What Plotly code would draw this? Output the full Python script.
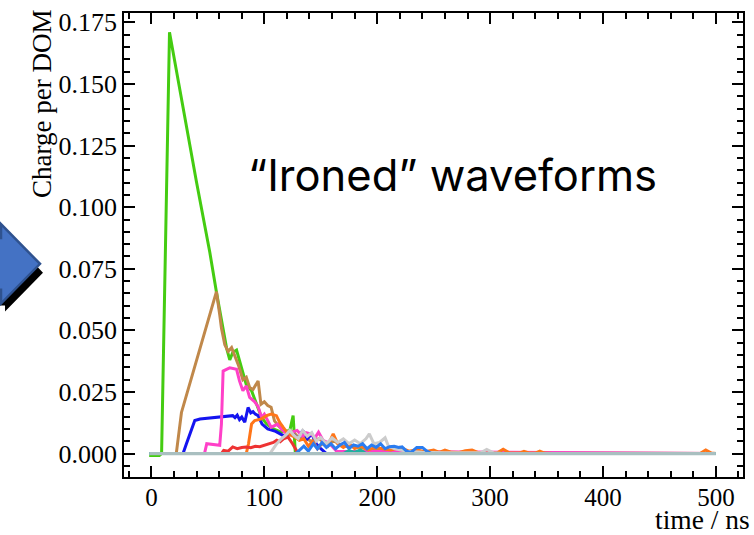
import plotly.graph_objects as go

# ---------------- data ----------------
green_x = [-2, 7, 9, 16, 40, 51.7, 57.6, 66.5, 69.4, 72, 75.4, 79.8, 84, 88.7, 93, 97.5, 102, 108, 115, 122.6, 125.5, 127, 127.5, 500]
green_y = [-0.0008, -0.0008, 0.0, 0.171, 0.110, 0.0817, 0.0655, 0.0429, 0.038, 0.041, 0.042, 0.0348, 0.028, 0.0255, 0.020, 0.0147, 0.012, 0.010, 0.0087, 0.0094, 0.0154, 0.003, 0.0, 0.0]

brown_x = [-2, 22, 26.6, 57.6, 60.5, 62, 65, 68, 71, 73.8, 77, 81, 84, 87, 90, 94.5, 97, 100, 103, 106, 109, 113, 117, 121, 126, 131, 136, 141, 148, 155, 162, 170, 180, 190, 200, 212, 500]
brown_y = [0, 0, 0.0167, 0.0657, 0.0563, 0.051, 0.0442, 0.0415, 0.043, 0.040, 0.036, 0.030, 0.031, 0.0268, 0.026, 0.0295, 0.020, 0.021, 0.0195, 0.0188, 0.0133, 0.011, 0.0093, 0.009, 0.0087, 0.006, 0.007, 0.005, 0.006, 0.004, 0.005, 0.003, 0.003, 0.002, 0.0015, 0.0005, 0]

blue_x = [-2, 28, 31, 38.4, 43, 55, 65, 72, 74, 76, 78, 80, 82.7, 85.6, 88, 90, 92, 94.5, 98, 103, 110, 118, 125, 130, 134, 138, 142, 146, 150, 155, 500]
blue_y = [0, 0, 0.004, 0.0134, 0.014, 0.0146, 0.015, 0.0154, 0.0146, 0.0156, 0.0138, 0.0148, 0.0127, 0.0187, 0.0165, 0.017, 0.016, 0.0154, 0.012, 0.010, 0.009, 0.007, 0.008, 0.006, 0.0094, 0.006, 0.008, 0.004, 0.002, 0.0, 0]

magenta_x = [-2, 47, 49, 55, 60.5, 62, 63.5, 66.5, 69.4, 75.4, 78, 81, 84, 87, 91.5, 94.5, 97.5, 100, 103, 106, 112, 116, 120, 124, 129, 134, 137, 141, 145, 148, 152, 156, 160, 164, 500]
magenta_y = [0, 0, 0.004, 0.0036, 0.0034, 0.012, 0.0335, 0.0342, 0.0348, 0.0342, 0.0295, 0.0255, 0.0275, 0.0228, 0.021, 0.019, 0.0147, 0.016, 0.013, 0.0107, 0.012, 0.0095, 0.008, 0.0085, 0.0094, 0.007, 0.0085, 0.008, 0.0065, 0.0087, 0.0054, 0.0045, 0.003, 0.001, 0]

orange_x = [-2, 84, 86, 88.7, 91.5, 97.5, 102, 106, 110.7, 113.6, 116.6, 121, 127, 131, 135, 139, 143, 147, 151, 156, 161, 165, 170, 175, 180, 186, 192, 198, 205, 212, 220, 228, 235, 242, 250, 255, 260, 266, 272, 278, 284, 290, 296, 306, 311.6, 317, 326, 330, 335, 340, 344, 348, 355, 486, 491, 496, 500]
orange_y = [0, 0, 0.004, 0.012, 0.0134, 0.0141, 0.0154, 0.016, 0.0154, 0.0127, 0.0107, 0.008, 0.0067, 0.0054, 0.006, 0.003, 0.005, 0.002, 0.004, 0.003, 0.008, 0.004, 0.0025, 0.004, 0.002, 0.003, 0.0015, 0.0025, 0.002, 0.0015, 0.0025, 0.001, 0.0015, 0.0008, 0.0014, 0.0005, 0.0014, 0.0005, 0.0004, 0.0012, 0.0014, 0.0003, 0.0002, 0.0002, 0.0018, 0.0003, 0.0002, 0.0009, 0.0002, 0.0002, 0.001, 0.0002, 0, 0, 0.0015, 0.0002, 0]

red_x = [-2, 62, 64, 68, 72, 76, 80, 84, 88, 92, 96, 100, 104, 108, 111, 114, 117, 121, 125, 130, 500]
red_y = [0, 0, 0.0013, 0.0010, 0.0027, 0.0020, 0.0025, 0.0027, 0.0024, 0.0030, 0.0028, 0.0033, 0.0040, 0.0045, 0.0054, 0.0048, 0.0060, 0.0067, 0.004, 0.0, 0]

gray_x = [-2, 105, 108, 111, 115, 119, 122.6, 126, 130, 134, 138, 142, 146, 150, 155, 160, 165, 170, 175, 180, 185, 190, 193, 197, 202, 207, 210, 215, 225, 240, 260, 280, 292, 297, 303, 310, 500]
gray_y = [0, 0, 0.002, 0.004, 0.006, 0.0075, 0.0094, 0.0075, 0.006, 0.0094, 0.007, 0.0085, 0.005, 0.0065, 0.004, 0.0064, 0.0045, 0.006, 0.004, 0.0055, 0.004, 0.006, 0.008, 0.004, 0.0045, 0.0064, 0.003, 0.002, 0.001, 0.0005, 0.0003, 0.0005, 0.0004, 0.0017, 0.0003, 0, 0]

azure_x = [-2, 128, 131, 135, 139, 143.5, 147, 151, 155, 159, 163, 167, 171, 175, 179, 183, 187, 191, 195, 199, 203, 207, 211, 215, 219, 222, 226, 230, 235, 240, 244, 248, 500]
azure_y = [0, 0, 0.0013, 0.003, 0.001, 0.004, 0.002, 0.0045, 0.0025, 0.004, 0.002, 0.0035, 0.0045, 0.002, 0.0035, 0.003, 0.004, 0.002, 0.0035, 0.0025, 0.004, 0.002, 0.0028, 0.003, 0.0025, 0.0027, 0.001, 0.0005, 0.0025, 0.0025, 0.001, 0, 0]

teal_x = [-2, 170, 175, 180, 185, 190, 500]
teal_y = [0, 0, 0.0012, 0.0005, 0.0015, 0.0, 0]

base_x = [-2, 500]
base_y = [0, 0]

series = [
    (green_x, green_y, "#44cc11"),
    (brown_x, brown_y, "#c0884a"),
    (blue_x, blue_y, "#1414f0"),
    (magenta_x, magenta_y, "#ff40c8"),
    (orange_x, orange_y, "#ff7518"),
    (red_x, red_y, "#ee3333"),
    (gray_x, gray_y, "#cccccc"),
    (azure_x, azure_y, "#2a7cf0"),
    (teal_x, teal_y, "#1fb0a0"),
]

fig = go.Figure()
for xs, ys, c in series:
    fig.add_trace(go.Scatter(x=xs, y=ys, mode="lines",
                             line=dict(color=c, width=3),
                             showlegend=False))
fig.add_trace(go.Scatter(x=base_x, y=base_y, mode="lines",
                         line=dict(color="#a9bfc0", width=3.4), showlegend=False))

W, H = 754, 535
L, R, T, B = 124, 11, 9, 58
pw, ph = W - L - R, H - T - B

def px(xp):
    return (xp - L) / pw

def py(yp):
    return (H - B - yp) / ph

serif = "Liberation Serif, Times New Roman, serif"

axis_common = dict(
    showline=True, linecolor="black", linewidth=1.8, mirror="ticks",
    ticks="inside", ticklen=11, tickwidth=1.8, tickcolor="black",
    showgrid=False, zeroline=False,
)

fig.update_xaxes(range=[-24.3, 524], tick0=0, dtick=100,
                 tickfont=dict(family=serif, size=25, color="black"),
                 ticklabelstandoff=-3,
                 minor=dict(ticks="inside", dtick=20, tick0=0, ticklen=6, tickwidth=1.5, tickcolor="black", showgrid=False),
                 **axis_common)
fig.update_yaxes(range=[-0.0095, 0.1788], tick0=0, dtick=0.025, tickformat=".3f",
                 tickfont=dict(family=serif, size=26, color="black"),
                 minor=dict(ticks="inside", dtick=0.005, tick0=0, ticklen=6, tickwidth=1.5, tickcolor="black", showgrid=False),
                 **axis_common)

# arrow shape (shadow + head)
def tri(points):
    return "M " + " L ".join(f"{px(a):.4f},{py(b):.4f}" for a, b in points) + " Z"

fig.add_shape(type="path", xref="paper", yref="paper",
              path=tri([(-20, 232), (5, 232), (5, 230), (43, 271), (5, 310), (5, 304), (-20, 304)]),
              fillcolor="black", line=dict(width=0))
fig.add_shape(type="path", xref="paper", yref="paper",
              path=tri([(-20, 236), (1, 236), (1, 222), (40, 262), (1, 302), (1, 288), (-20, 288)]),
              fillcolor="#4472c4", line=dict(color="#2f528f", width=2.5))

fig.add_annotation(text="Charge per DOM", xref="paper", yref="paper",
                   x=px(42), y=py(4), xanchor="center", yanchor="top",
                   textangle=-90, showarrow=False,
                   font=dict(family=serif, size=27, color="black"))
fig.add_annotation(text="time / ns", xref="paper", yref="paper",
                   x=px(751), y=py(520), xanchor="right", yanchor="middle",
                   showarrow=False, borderpad=0,
                   font=dict(family=serif, size=27.5, color="black"))
fig.add_annotation(text="“Ironed” waveforms", xref="paper", yref="paper",
                   x=px(452.5), y=py(172), xanchor="center", yanchor="middle",
                   showarrow=False, font=dict(family="Inter, Noto Sans, sans-serif", size=43.5, color="black"))

fig.update_layout(width=W, height=H, margin=dict(l=L, r=R, t=T, b=B),
                  paper_bgcolor="white", plot_bgcolor="white", showlegend=False)

fig.write_html("out.html", config={"displayModeBar": False},
               post_script="document.body.style.margin='0px';document.body.style.padding='0px';")
